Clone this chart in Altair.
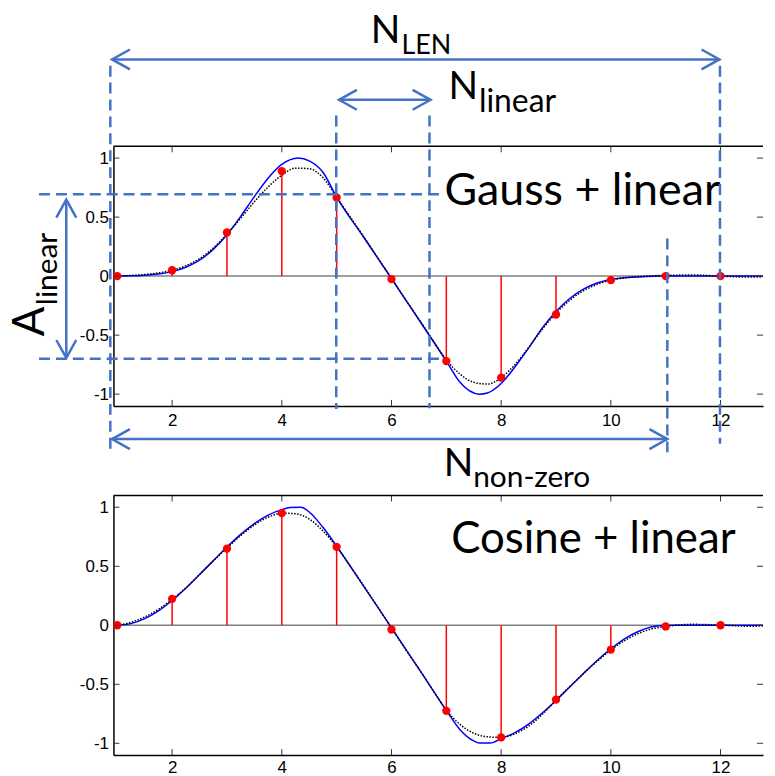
import altair as alt
import pandas as pd

# ---------------- data ----------------
n_idx = [1, 2, 3, 4, 5, 6, 7, 8, 9, 10, 11, 12]
gauss_samples = [0.0, 0.05, 0.37, 0.89, 0.666, -0.025, -0.72, -0.86, -0.325, -0.034, 0.0, 0.0]
cosine_samples = [0.0, 0.224, 0.65, 0.95, 0.664, -0.036, -0.725, -0.95, -0.63, -0.206, -0.01, 0.0]

gauss_cont_x = [1.0, 1.25, 1.5, 1.75, 2.0, 2.25, 2.5, 2.75, 3.0, 3.25, 3.5, 3.75, 4.0, 4.3, 4.5, 4.75,
                5.0, 5.5, 6.0, 6.5, 7.0, 7.25, 7.6, 7.75, 8.0, 8.25, 8.5, 8.75, 9.0, 9.25, 9.5, 9.75,
                10.0, 10.5, 11.0, 12.0, 12.77]
gauss_cont_y = [0.0, 0.003, 0.008, 0.018, 0.038, 0.075, 0.135, 0.227, 0.35, 0.506, 0.674, 0.83, 0.946, 1.0, 0.976, 0.88,
                0.67, 0.325, -0.02, -0.37, -0.72, -0.90, -1.0, -0.99, -0.91, -0.77, -0.61, -0.44, -0.30, -0.19, -0.11, -0.058,
                -0.03, -0.007, 0.0, 0.0, 0.0]

dot_x = [1.0, 1.25, 1.5, 1.75, 2.0, 2.25, 2.5, 2.75, 3.0, 3.25, 3.5, 3.75, 4.0, 4.25, 4.5, 4.75,
         5.0, 5.25, 5.5, 5.75, 6.0, 6.25, 6.5, 6.75, 7.0, 7.25, 7.5, 7.75, 8.0, 8.25, 8.5, 8.75,
         9.0, 9.25, 9.5, 9.75, 10.0, 10.25, 10.5, 10.75, 11.0, 11.5, 12.0, 12.5, 12.77]
gauss_dot_y = [0.0, 0.006, 0.014, 0.027, 0.05, 0.088, 0.148, 0.238, 0.355, 0.49, 0.63, 0.755, 0.855, 0.915, 0.91, 0.835,
               0.67, 0.5, 0.33, 0.155, -0.02, -0.195, -0.365, -0.54, -0.71, -0.83, -0.9, -0.915, -0.86, -0.75, -0.605, -0.45,
               -0.315, -0.205, -0.125, -0.07, -0.035, -0.015, -0.004, 0.003, 0.006, 0.01, 0.0, -0.008, -0.006]

cos_cont_x = [1.0, 1.25, 1.5, 1.75, 2.0, 2.25, 2.5, 2.75, 3.0, 3.25, 3.5, 3.75, 4.0, 4.15, 4.35, 4.5,
              4.75, 5.0, 5.5, 6.0, 6.5, 7.0, 7.25, 7.5, 7.6, 7.8, 8.0, 8.25, 8.5, 8.75, 9.0, 9.25,
              9.5, 9.75, 10.0, 10.25, 10.5, 10.75, 11.0, 12.0, 12.77]
cos_cont_y = [0.0, 0.014, 0.056, 0.122, 0.21, 0.314, 0.43, 0.547, 0.663, 0.77, 0.862, 0.933, 0.98, 0.997, 1.0, 0.96,
              0.83, 0.67, 0.325, -0.02, -0.37, -0.72, -0.885, -0.98, -0.997, -0.997, -0.96, -0.91, -0.837, -0.743, -0.637, -0.523,
              -0.408, -0.298, -0.2, -0.115, -0.053, -0.013, 0.0, 0.0, 0.0]
cos_dot_y = [0.0, 0.025, 0.07, 0.135, 0.22, 0.318, 0.43, 0.545, 0.655, 0.76, 0.85, 0.915, 0.95, 0.945, 0.9, 0.8,
             0.665, 0.5, 0.33, 0.155, -0.025, -0.2, -0.37, -0.545, -0.72, -0.84, -0.915, -0.945, -0.95, -0.92, -0.855, -0.755,
             -0.635, -0.52, -0.41, -0.305, -0.21, -0.13, -0.07, -0.03, -0.01, 0.008, 0.002, -0.008, -0.006]

x_ticks = [2, 4, 6, 8, 10, 12]
y_ticks = [-1, -0.5, 0, 0.5, 1]

# annotations (in the upper panel's data coordinates)
dashed_x1 = [0.873, 4.993, 6.693, 11.03, 11.99, -0.427, -0.427]
dashed_y1 = [1.783, 1.36, 1.36, 0.319, 1.783, 0.693, -0.701]
dashed_x2 = [0.873, 4.993, 6.693, 11.03, 11.99, 6.91, 6.95]
dashed_y2 = [-1.48, -1.126, -1.12, -1.505, -1.421, 0.693, -0.701]

arrow_x1 = [0.904, 5.043, 0.904, 0.07]
arrow_y1 = [1.836, 1.494, -1.381, 0.648]
arrow_x2 = [11.98, 6.712, 11.03, 0.07]
arrow_y2 = [1.836, 1.494, -1.381, -0.693]

label_text = ["N", "LEN", "N", "linear", "N", "non-zero", "A", "linear", "Gauss + linear"]
label_x = [5.624, 6.182, 7.038, 7.595, 6.953, 7.49, -0.336, -0.094, 6.966]
label_y = [1.977, 1.879, 1.499, 1.387, -1.691, -1.789, -0.510, -0.246, 0.600]
label_size = [39, 27, 39, 32, 39, 30, 44, 30, 45]
label_angle = [0, 0, 0, 0, 0, 0, 270, 270, 0]

cos_label_text = ["Cosine + linear"]
cos_label_x = [7.09]
cos_label_y = [0.613]
cos_label_size = [44]
cos_label_angle = [0]

# ---------------- styling ----------------
W, H = 653, 261
BLUE = "#4472C4"
HEAD_L = "M1.8,-1L0,0L1.8,1"
HEAD_R = "M-1.8,-1L0,0L-1.8,1"
HEAD_U = "M-1,1.8L0,0L1,1.8"
HEAD_D = "M-1,-1.8L0,0L1,-1.8"

XS = alt.Scale(domain=[0.93, 12.775], nice=False, zero=False)
YS = alt.Scale(domain=[-1.1, 1.1], nice=False, zero=False)


def x_axis(pad):
    return alt.Axis(values=x_ticks, ticks=False, tickSize=0, labelPadding=pad, labelFont="Liberation Sans",
                    labelFontSize=17, labelColor="black", domainColor="black", domainWidth=1.5, grid=False,
                    title=None, labelFlush=False, labelExpr="'' + datum.value")


YAX = alt.Axis(values=y_ticks, ticks=False, tickSize=0, labelPadding=5, labelFont="Liberation Sans",
               labelFontSize=17, labelColor="black", domainColor="black", domainWidth=1.5, grid=False,
               title=None, labelFlush=False, labelExpr="'' + datum.value")


def make_x(pad):
    def Xq(f):
        return alt.X(f, type="quantitative", scale=XS, axis=x_axis(pad))
    return Xq


def Yq(f):
    return alt.Y(f, type="quantitative", scale=YS, axis=YAX)


def text_layer(Xq, t, x, y, s, a):
    df = pd.DataFrame({"t": t, "x": x, "y": y, "fs": s, "ang": a})
    return alt.Chart(df).mark_text(align="left", baseline="alphabetic", font="Lato", color="black").encode(
        x=Xq("x"), y=Yq("y"), text="t:N",
        size=alt.Size("fs:Q", scale=None), angle=alt.Angle("ang:Q", scale=None))


def panel(Xq, samples, cx, cy, dy, extra):
    samp = pd.DataFrame({"n": n_idx, "v": samples})
    cont = pd.DataFrame({"x": cx, "y": cy})
    dots = pd.DataFrame({"x": dot_x, "y": dy})
    xt = pd.DataFrame({"t": x_ticks})
    yt = pd.DataFrame({"t": y_ticks})
    zero = alt.Chart(pd.DataFrame({"y": [0.0]})).mark_rule(color="#808080", strokeWidth=1.5).encode(y=Yq("y"))
    stems = alt.Chart(samp).mark_rule(color="#FF0000", strokeWidth=1.5).encode(x=Xq("n"), y=Yq("v"), y2=alt.datum(0))
    blue = alt.Chart(cont).mark_line(color="#0000FF", strokeWidth=1.5, interpolate="monotone").encode(x=Xq("x"), y=Yq("y"))
    dotted = alt.Chart(dots).mark_line(color="black", strokeWidth=1.5, strokeDash=[1.5, 1.5],
                                       interpolate="monotone").encode(x=Xq("x"), y=Yq("y"))
    pts = alt.Chart(samp).mark_circle(color="#FF0000", size=70, opacity=1).encode(x=Xq("n"), y=Yq("v"))
    tk_top = alt.Chart(xt).mark_rule(color="#333333", strokeWidth=1).encode(x=Xq("t"), y=alt.value(0), y2=alt.value(6))
    tk_bot = alt.Chart(xt).mark_rule(color="#333333", strokeWidth=1).encode(x=Xq("t"), y=alt.value(H), y2=alt.value(H - 6))
    tk_left = alt.Chart(yt).mark_rule(color="#333333", strokeWidth=1).encode(y=Yq("t"), x=alt.value(0), x2=alt.value(6))
    tk_right = alt.Chart(yt).mark_rule(color="#333333", strokeWidth=1).encode(y=Yq("t"), x=alt.value(W), x2=alt.value(W - 6))
    top_border = alt.Chart(pd.DataFrame({"a": [0]})).mark_rule(color="black", strokeWidth=1.5).encode(
        x=alt.value(0), x2=alt.value(W), y=alt.value(0))
    layers = [zero, stems, blue, dotted, pts, tk_top, tk_bot, tk_left, tk_right, top_border] + extra
    return alt.layer(*layers).properties(width=W, height=H)


X_top = make_x(7)
X_bot = make_x(5)

# annotation layers for upper panel
dash_df = pd.DataFrame({"x1": dashed_x1, "y1": dashed_y1, "x2": dashed_x2, "y2": dashed_y2})
dashed = alt.Chart(dash_df).mark_rule(color=BLUE, strokeWidth=2.5, strokeDash=[11, 6]).encode(
    x=X_top("x1"), y=Yq("y1"), x2="x2:Q", y2="y2:Q")
arr_df = pd.DataFrame({"x1": arrow_x1, "y1": arrow_y1, "x2": arrow_x2, "y2": arrow_y2})
arrows = alt.Chart(arr_df).mark_rule(color=BLUE, strokeWidth=2.5).encode(
    x=X_top("x1"), y=Yq("y1"), x2="x2:Q", y2="y2:Q")
hx, hy, hs = [], [], []
for a, b, c, d in zip(arrow_x1, arrow_y1, arrow_x2, arrow_y2):
    hx += [a, c]
    hy += [b, d]
    hs += [HEAD_L, HEAD_R] if b == d else [HEAD_U, HEAD_D]
head_df = pd.DataFrame({"x": hx, "y": hy, "shape": hs})
heads = alt.Chart(head_df).mark_point(filled=False, color=BLUE, strokeWidth=2.5, size=400, opacity=1).encode(
    x=X_top("x"), y=Yq("y"), shape=alt.Shape("shape:N", scale=None))
top_texts = text_layer(X_top, label_text, label_x, label_y, label_size, label_angle)
bot_texts = text_layer(X_bot, cos_label_text, cos_label_x, cos_label_y, cos_label_size, cos_label_angle)

top = panel(X_top, gauss_samples, gauss_cont_x, gauss_cont_y, gauss_dot_y, [top_texts, dashed, arrows, heads])
bottom = panel(X_bot, cosine_samples, cos_cont_x, cos_cont_y, cos_dot_y, [bot_texts])

chart = alt.vconcat(top, bottom, spacing=90, bounds="flush").properties(
    padding={"left": 0, "top": 1, "right": 0, "bottom": 0}
).configure_view(stroke="transparent")

chart.save("out.html", embed_options={"renderer": "svg", "actions": False})
